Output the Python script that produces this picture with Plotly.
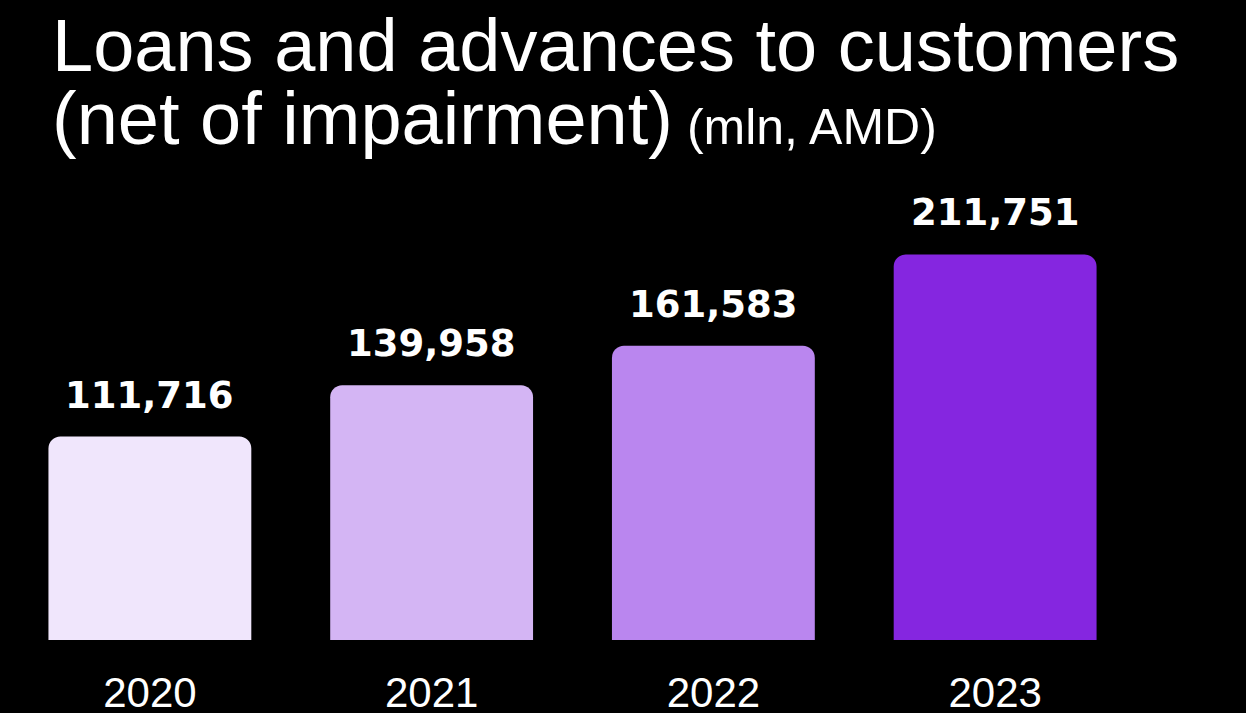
import plotly.graph_objects as go

# Loans and advances to customers, net of impairment (mln AMD)
years = ["2020", "2021", "2022", "2023"]
loans = [111716, 139958, 161583, 211751]
bar_colors = ["#F0E6FC", "#D4B5F4", "#BA86EF", "#8526E0"]

fig = go.Figure()
fig.add_trace(go.Bar(
    x=years,
    y=loans,
    marker=dict(color=bar_colors, line=dict(width=0), cornerradius=12),
    width=0.72,
    hoverinfo="skip",
))

# value labels above each bar (positioned by category index)
for i, v in enumerate(loans):
    fig.add_annotation(
        x=i, y=v, xref="x", yref="y",
        text="<b>" + f"{v:,}" + "</b>",
        showarrow=False,
        yanchor="bottom",
        yshift=18,
        font=dict(family="DejaVu Sans", size=37, color="white"),
    )

title_font = dict(family="Liberation Sans, Arial, sans-serif", size=74, color="white")
fig.add_annotation(
    x=0.0364, xref="paper", xanchor="left",
    y=0.861, yref="paper", yanchor="bottom",
    text="Loans and advances to customers",
    showarrow=False, font=title_font, align="left",
)
fig.add_annotation(
    x=0.0364, xref="paper", xanchor="left",
    y=0.747, yref="paper", yanchor="bottom",
    text="(net of impairment)<span style='font-size:50px'> (mln, AMD)</span>",
    showarrow=False, font=title_font, align="left",
)

fig.update_layout(
    width=1246, height=713,
    margin=dict(l=9, r=110, t=0, b=73, autoexpand=False),
    paper_bgcolor="black",
    plot_bgcolor="black",
    showlegend=False,
    xaxis=dict(
        type="category",
        range=[-0.5, 3.5],
        automargin=False,
        showgrid=False, zeroline=False, showline=False, ticks="",
        tickfont=dict(family="Liberation Sans, Arial, sans-serif", size=42, color="white"),
        ticklabelstandoff=24,
    ),
    yaxis=dict(
        range=[0, 351500],
        visible=False,
        automargin=False,
        showgrid=False, zeroline=False,
    ),
)

fig.write_html("out.html")
